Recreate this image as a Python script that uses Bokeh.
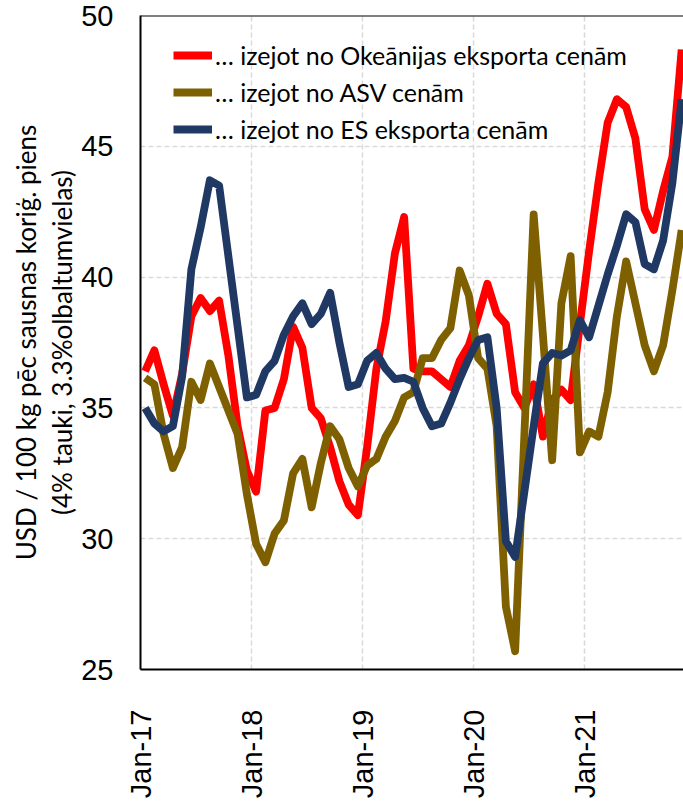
import math
from bokeh.plotting import figure
from bokeh.models import Range1d, FixedTicker, Legend, LegendItem, Span
from bokeh.embed import file_html
from bokeh.resources import INLINE

# Monthly values, Jan-17 ... Nov-21 (USD / 100 kg ECM)
oceania = [
    36.4, 37.2, 35.9, 34.7, 36.3, 38.5, 39.2, 38.7, 39.1, 37.0, 34.3, 32.6,
    31.8, 34.9, 35.0, 36.1, 38.1, 37.3, 35.0, 34.6, 33.5, 32.2, 31.3, 30.9,
    33.5, 36.5, 38.3, 40.9, 42.3, 36.5, 36.4, 36.4, 36.1, 35.8, 36.8, 37.4,
    38.5, 39.75, 38.6, 38.2, 35.6, 35.0, 35.9, 33.9, 35.3, 35.7, 35.3, 38.2,
    41.0, 43.6, 45.9, 46.8, 46.5, 45.3, 42.6, 41.8, 43.3, 44.6, 48.7,
]
usa = [
    36.15, 35.9, 34.0, 32.7, 33.5, 36.0, 35.3, 36.7, 35.8, 34.9, 34.0, 31.7,
    29.8, 29.1, 30.2, 30.7, 32.5, 33.05, 31.2, 32.9, 34.3, 33.8, 32.7, 32.0,
    32.8, 33.05, 33.9, 34.5, 35.4, 35.6, 36.9, 36.9, 37.6, 38.05, 40.25, 39.3,
    36.9, 36.5, 34.3, 27.4, 25.7, 34.0, 42.4, 37.8, 33.0, 39.0, 40.8, 33.3,
    34.1, 33.9, 35.6, 38.5, 40.6, 39.0, 37.4, 36.4, 37.4, 39.5, 41.8,
]
eu = [
    35.0, 34.4, 34.1, 34.3, 36.2, 40.3, 41.9, 43.7, 43.5, 40.8, 38.1, 35.4,
    35.5, 36.4, 36.8, 37.8, 38.5, 39.0, 38.2, 38.6, 39.4, 37.5, 35.8, 35.9,
    36.8, 37.1, 36.5, 36.1, 36.15, 36.0, 35.0, 34.3, 34.4, 35.2, 36.1, 36.9,
    37.6, 37.7, 35.0, 29.9, 29.3, 31.8, 34.3, 36.7, 37.1, 37.0, 37.2, 38.35,
    37.7, 38.9, 40.1, 41.2, 42.4, 42.1, 40.5, 40.3, 41.4, 43.6, 46.8,
]
series_names = [
    "\u2026 izejot no Oke\u0101nijas eksporta cen\u0101m",
    "\u2026 izejot no ASV cen\u0101m",
    "\u2026 izejot no ES eksporta cen\u0101m",
]
tick_months = [0, 12, 24, 36, 48]
tick_labels = ["Jan-17", "Jan-18", "Jan-19", "Jan-20", "Jan-21"]
y_ticks = [25, 30, 35, 40, 45, 50]

months = [i + 0.5 for i in range(len(oceania))]  # mid-month positions

p = figure(width=683, height=806, output_backend="svg", toolbar_location=None,
           x_range=Range1d(0, 58.7), y_range=Range1d(25, 50),
           min_border_left=140, min_border_right=0, min_border_top=15,
           min_border_bottom=137)
p.outline_line_color = None
p.background_fill_color = "white"
p.border_fill_color = "white"

colors = ["#FF0000", "#7F6000", "#1F3864"]
renderers = []
for data, c in zip([oceania, usa, eu], colors):
    r = p.line(months, data, line_color=c, line_width=7.8, line_join="round")
    renderers.append(r)

# axes
p.xaxis.ticker = FixedTicker(ticks=tick_months)
p.xaxis.major_label_overrides = {k: v for k, v in zip(tick_months, tick_labels)}
p.xaxis.major_label_orientation = math.pi / 2
p.xaxis.major_label_text_font = "Liberation Sans"
p.xaxis.major_label_text_font_size = "29px"
p.xaxis.major_label_text_color = "black"
p.xaxis.major_label_standoff = 34
p.xaxis.major_tick_line_color = None
p.xaxis.minor_tick_line_color = None
p.xaxis.axis_line_color = "black"
p.xaxis.axis_line_width = 2

p.yaxis.ticker = FixedTicker(ticks=y_ticks)
p.yaxis.major_label_text_font = "Liberation Sans"
p.yaxis.major_label_text_font_size = "29px"
p.yaxis.major_label_text_color = "black"
p.yaxis.major_label_standoff = 21
p.yaxis.major_tick_line_color = None
p.yaxis.minor_tick_line_color = None
p.yaxis.axis_line_color = "black"
p.yaxis.axis_line_width = 2
p.yaxis.axis_label = "USD / 100 kg p\u0113c sausnas kori\u0123. piens\n(4% tauki, 3.3%olbaltumvielas)"
p.yaxis.axis_label_text_font = "Lato"
p.yaxis.axis_label_text_font_size = "26px"
p.yaxis.axis_label_text_font_style = "normal"
p.yaxis.axis_label_text_color = "black"
p.yaxis.axis_label_text_line_height = 1.12
p.yaxis.axis_label_standoff = 0

# grids
p.xgrid.ticker = FixedTicker(ticks=[12, 24, 36, 48, 60])
p.ygrid.ticker = FixedTicker(ticks=[30, 35, 40, 45])
for g in (p.xgrid, p.ygrid):
    g.grid_line_color = "#D9D9D9"
    g.grid_line_width = 1.5
    g.grid_line_dash = "5 3"

p.add_layout(Span(location=50, dimension="width", line_color="black", line_width=2))

legend = Legend(items=[LegendItem(label=n, renderers=[r]) for n, r in zip(series_names, renderers)],
                location=(33, 525), background_fill_alpha=0, border_line_color=None,
                label_text_font="Lato", label_text_font_size="25px", label_text_color="black",
                glyph_width=39, glyph_height=30, label_height=30, spacing=7,
                label_standoff=3, padding=0, margin=0)
p.add_layout(legend)

open("out.html", "w").write(file_html(p, INLINE))
